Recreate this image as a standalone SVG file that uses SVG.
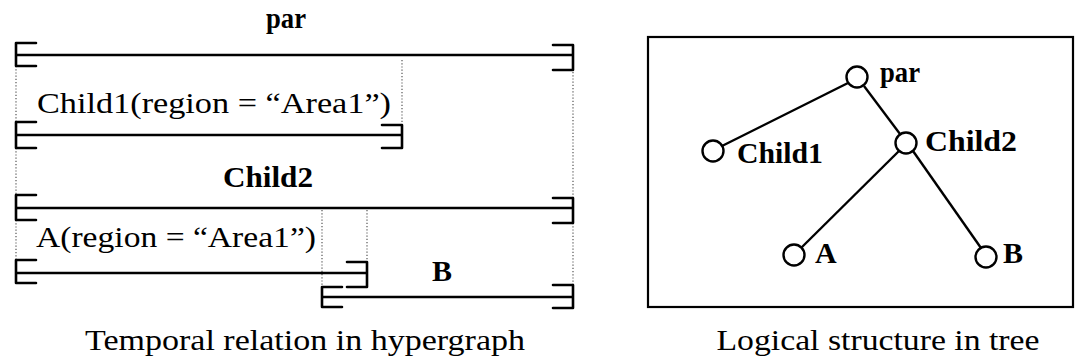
<svg xmlns="http://www.w3.org/2000/svg" width="1090" height="364" viewBox="0 0 1090 364">
<style>
text{font-family:"Liberation Serif","Times New Roman",serif;fill:#000}
.lb{font-size:30px}
.b{font-weight:bold}
.cap{font-size:30px}
.br{fill:none;stroke:#000;stroke-width:2.6;stroke-linejoin:round;stroke-linecap:round}
.dot{fill:none;stroke:#555;stroke-width:1.2;stroke-dasharray:1.2 2}
.edge{fill:none;stroke:#000;stroke-width:2.4}
.nd{fill:#fff;stroke:#000;stroke-width:2.4}
</style>
<rect width="1090" height="364" fill="#fff"/>
<g id="hypergraph">
<g id="guides">
<path class="dot" d="M16 66V122M16 148V195M16 220V260M402 60V125M573 72V198M573 223V285M322 210V287M367 210V262"/>
</g>
<g id="h-par">
<text class="lb b" x="286" y="28" text-anchor="middle" textLength="40" lengthAdjust="spacingAndGlyphs">par</text>
<path class="br" d="M36 43H16V66H36M16 55H573M553 45H573V70H553"/>
</g>
<g id="h-child1">
<text class="lb" x="37" y="113" textLength="354" lengthAdjust="spacingAndGlyphs">Child1(region = “Area1”)</text>
<path class="br" d="M36 122H16V148H36M16 135H402M382 125H402V148H382"/>
</g>
<g id="h-child2">
<text class="lb b" x="223" y="187" textLength="90" lengthAdjust="spacingAndGlyphs">Child2</text>
<path class="br" d="M36 195H16V220H36M16 208H573M553 198H573V223H553"/>
</g>
<g id="h-a">
<text class="lb" x="36" y="247" textLength="280" lengthAdjust="spacingAndGlyphs">A(region = “Area1”)</text>
<path class="br" d="M36 260H16V283H36M16 273H367M347 262H367V287H347"/>
</g>
<g id="h-b">
<text class="lb b" x="442" y="281" text-anchor="middle">B</text>
<path class="br" d="M342 287H322V307H342M322 297H573M553 285H573V308H553"/>
</g>
<text class="cap" x="305" y="350" text-anchor="middle" textLength="440" lengthAdjust="spacingAndGlyphs">Temporal relation in hypergraph</text>
</g>
<g id="tree">
<rect x="648" y="37" width="425" height="270" fill="none" stroke="#000" stroke-width="2.2"/>
<g id="connectors">
<line class="edge" x1="848" y1="83" x2="722" y2="146"/>
<line class="edge" x1="864" y1="86" x2="900" y2="134"/>
<line class="edge" x1="899" y1="151" x2="801" y2="248"/>
<line class="edge" x1="913" y1="151" x2="981" y2="248"/>
</g>
<g id="t-par">
<circle class="nd" cx="857" cy="77" r="10.5"/>
<text class="lb b" x="880" y="82" textLength="40" lengthAdjust="spacingAndGlyphs">par</text>
</g>
<g id="t-child1">
<circle class="nd" cx="713" cy="151" r="10.5"/>
<text class="lb b" x="737" y="163" textLength="86" lengthAdjust="spacingAndGlyphs">Child1</text>
</g>
<g id="t-child2">
<circle class="nd" cx="906" cy="143" r="10.5"/>
<text class="lb b" x="925" y="151" textLength="92" lengthAdjust="spacingAndGlyphs">Child2</text>
</g>
<g id="t-a">
<circle class="nd" cx="794" cy="255" r="10.5"/>
<text class="lb b" x="815" y="263">A</text>
</g>
<g id="t-b">
<circle class="nd" cx="986" cy="257" r="10.5"/>
<text class="lb b" x="1003" y="263">B</text>
</g>
<text class="cap" x="878" y="350" text-anchor="middle" textLength="323" lengthAdjust="spacingAndGlyphs">Logical structure in tree</text>
</g>
</svg>
